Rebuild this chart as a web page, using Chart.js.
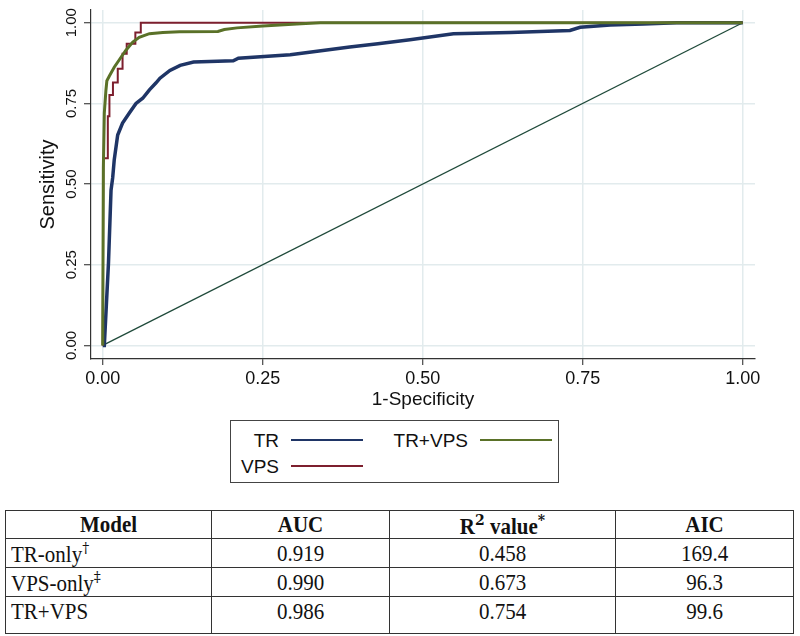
<!DOCTYPE html>
<html lang="en">
<head>
<meta charset="UTF-8">
<title>ROC curves</title>
<script src="https://cdn.jsdelivr.net/npm/chart.js"></script>
<style>
    body { margin: 0; background: #fff; width: 800px; height: 636px; position: relative; overflow: hidden; }
    #roc-wrap { position: absolute; left: 0; top: 0; width: 800px; height: 415px; }
    #legend {
        position: absolute; left: 230px; top: 420px; width: 329px; height: 63px;
        border: 1px solid #444; box-sizing: border-box;
        font-family: "Liberation Sans", Arial, sans-serif; font-size: 19px; color: #111;
    }
    #legend .lbl { position: absolute; white-space: nowrap; line-height: 22px; transform: translate(-100%, -50%); }
    #legend .swatch { position: absolute; height: 2px; width: 72px; transform: translateY(-50%); }
    #stats {
        position: absolute; left: 5px; top: 510px; width: 788px;
        border-collapse: collapse; table-layout: fixed;
        font-family: "Liberation Serif", "Times New Roman", serif; font-size: 21px; color: #111;
    }
    #stats td, #stats th { border: 1.5px solid #333; padding: 0 5px; text-align: center; line-height: 1; }
    #stats th { font-weight: bold; height: 27px; }
    #stats td { height: 28px; }
    #stats td.first { text-align: left; }
    #stats tr.last td { height: 32px; vertical-align: top; padding-top: 4px; }
    #stats span { display: inline-block; transform: scaleY(1.1); }
    #stats sup { font-family: "DejaVu Serif", serif; font-size: 14px; vertical-align: 8px; color: #111; }
</style>
</head>
<body>
<div id="roc-wrap">
    <canvas id="roc-chart" width="800" height="415"></canvas>
</div>
<div id="legend"></div>
<table id="stats"></table>

<script>
    // ROC points (1-specificity, sensitivity)
    const fprTR = [0, 0.0025, 0.009, 0.013, 0.0156, 0.018, 0.0234, 0.031, 0.0416, 0.052, 0.0625, 0.073, 0.083, 0.0895,
        0.105, 0.121, 0.142, 0.204, 0.212, 0.293, 0.344, 0.386, 0.43, 0.48, 0.548, 0.637, 0.73, 0.746, 0.793, 0.845, 0.897, 1];
    const tprTR = [0, 0, 0.255, 0.481, 0.52, 0.575, 0.652, 0.689, 0.72, 0.75, 0.766, 0.792, 0.813, 0.828,
        0.852, 0.868, 0.878, 0.882, 0.89, 0.901, 0.914, 0.925, 0.935, 0.947, 0.966, 0.970, 0.976, 0.986, 0.993, 0.996, 1, 1];

    const fprVPS = [0, 0.001, 0.008, 0.008, 0.0105, 0.0105, 0.016, 0.016, 0.0235, 0.0235, 0.031, 0.031,
        0.0375, 0.0375, 0.051, 0.051, 0.0595, 0.0595, 1];
    const tprVPS = [0, 0.58, 0.58, 0.71, 0.71, 0.776, 0.776, 0.815, 0.815, 0.857, 0.857, 0.904,
        0.904, 0.935, 0.935, 0.97, 0.97, 1, 1];

    const fprBoth = [0, 0.001, 0.0025, 0.005, 0.0065, 0.0104, 0.018, 0.0286, 0.036, 0.047, 0.057, 0.073, 0.094,
        0.12, 0.18, 0.19, 0.21, 0.25, 0.31, 0.34, 1];
    const tprBoth = [0, 0.55, 0.72, 0.79, 0.82, 0.835, 0.862, 0.893, 0.914, 0.94, 0.955, 0.966, 0.970,
        0.972, 0.973, 0.979, 0.984, 0.99, 0.997, 1, 1];

    const refX = [0, 1];
    const refY = [0, 1];

    const seriesNames = ['TR', 'VPS', 'TR+VPS'];
    const seriesColors = ['#1f3566', '#7d1f2e', '#5a7128'];

    const tickValues = [0, 0.25, 0.5, 0.75, 1];
    const tickLabels = ['0.00', '0.25', '0.50', '0.75', '1.00'];

    // table
    const models = ['TR-only', 'VPS-only', 'TR+VPS'];
    const modelNotes = ['\u2020', '\u2021', ''];
    const aucValues = ['0.919', '0.990', '0.986'];
    const r2Values = ['0.458', '0.673', '0.754'];
    const aicValues = ['169.4', '96.3', '99.6'];

    const toPoints = (xs, ys) => xs.map((x, i) => ({x: x, y: ys[i]}));
    const font = 'Liberation Sans';

    const yTickLabels = {
        id: 'yTickLabels',
        afterDraw(chart) {
            const {ctx, scales: {y}} = chart;
            ctx.save();
            ctx.font = '15px "' + font + '"';
            ctx.fillStyle = '#111';
            ctx.textAlign = 'center';
            ctx.textBaseline = 'middle';
            tickValues.forEach((v, i) => {
                ctx.save();
                ctx.translate(y.right - 19, y.getPixelForValue(v));
                ctx.rotate(-Math.PI / 2);
                ctx.fillText(tickLabels[i], 0, 0);
                ctx.restore();
            });
            ctx.restore();
        }
    };

    let ctx = document.getElementById('roc-chart').getContext('2d');
    let chart = new Chart(ctx, {
        type: 'line',
        data: {
            datasets: [
                {label: seriesNames[0], data: toPoints(fprTR, tprTR), borderColor: seriesColors[0], borderWidth: 3.5, order: 3},
                {label: seriesNames[1], data: toPoints(fprVPS, tprVPS), borderColor: seriesColors[1], borderWidth: 2, order: 2},
                {label: seriesNames[2], data: toPoints(fprBoth, tprBoth), borderColor: seriesColors[2], borderWidth: 3, order: 1},
                {label: 'Reference', data: toPoints(refX, refY), borderColor: '#1f4a3a', borderWidth: 1.3, order: 4}
            ]
        },
        options: {
            responsive: false,
            animation: false,
            layout: {padding: {left: 0, right: 45, top: 10, bottom: 0}},
            elements: {point: {radius: 0}, line: {tension: 0, fill: false}},
            plugins: {legend: {display: false}, tooltip: {enabled: false}},
            scales: {
                x: {
                    type: 'linear',
                    min: -0.0183,
                    max: 1.0192,
                    afterBuildTicks: s => { s.ticks = tickValues.map(v => ({value: v})); },
                    afterFit: s => { s.height = 56; },
                    ticks: {
                        callback: (v, i) => tickLabels[i],
                        font: {family: font, size: 18},
                        color: '#111',
                        padding: 3,
                        maxRotation: 0,
                        autoSkip: false
                    },
                    grid: {color: '#e2ebed', lineWidth: 1.5, tickColor: '#222', tickLength: 6, tickWidth: 1},
                    border: {color: '#333', width: 1.2},
                    title: {
                        display: true,
                        text: '1-Specificity',
                        font: {family: font, size: 19},
                        color: '#111',
                        padding: {top: 0, bottom: 3.6}
                    }
                },
                y: {
                    type: 'linear',
                    min: -0.042,
                    max: 1.0394,
                    afterBuildTicks: s => { s.ticks = tickValues.map(v => ({value: v})); },
                    afterFit: s => { s.width = 91; },
                    ticks: {display: false},
                    grid: {color: '#e2ebed', lineWidth: 1.5, tickColor: '#222', tickLength: 7, tickWidth: 1},
                    border: {color: '#333', width: 1.2},
                    title: {
                        display: true,
                        text: 'Sensitivity',
                        font: {family: font, size: 20},
                        color: '#111',
                        padding: {top: 36, bottom: 0}
                    }
                }
            }
        },
        plugins: [yTickLabels]
    });

    // legend box (label right edge, centre y) inside the frame
    const legendPos = [[48, 20], [48, 46], [237, 20]];
    const legend = document.getElementById('legend');
    seriesNames.forEach((name, i) => {
        const lbl = document.createElement('div');
        lbl.className = 'lbl';
        lbl.textContent = name;
        lbl.style.left = legendPos[i][0] + 'px';
        lbl.style.top = legendPos[i][1] + 'px';
        const sw = document.createElement('div');
        sw.className = 'swatch';
        sw.style.background = seriesColors[i];
        sw.style.left = (legendPos[i][0] + 12) + 'px';
        sw.style.top = (legendPos[i][1] - 1) + 'px';
        legend.appendChild(lbl);
        legend.appendChild(sw);
    });

    // statistics table
    let html = '<colgroup><col style="width:206px"><col style="width:178px"><col style="width:226px"><col style="width:178px"></colgroup>';
    html += '<tr><th><span>Model</span></th><th><span>AUC</span></th><th><span>R<sup>2</sup> value<sup>*</sup></span></th><th><span>AIC</span></th></tr>';
    models.forEach((m, i) => {
        html += '<tr' + (i === models.length - 1 ? ' class="last"' : '') + '>' +
            '<td class="first"><span>' + m + (modelNotes[i] ? '<sup>' + modelNotes[i] + '</sup>' : '') + '</span></td>' +
            '<td><span>' + aucValues[i] + '</span></td>' +
            '<td><span>' + r2Values[i] + '</span></td>' +
            '<td><span>' + aicValues[i] + '</span></td></tr>';
    });
    document.getElementById('stats').innerHTML = html;
</script>
</body>
</html>
